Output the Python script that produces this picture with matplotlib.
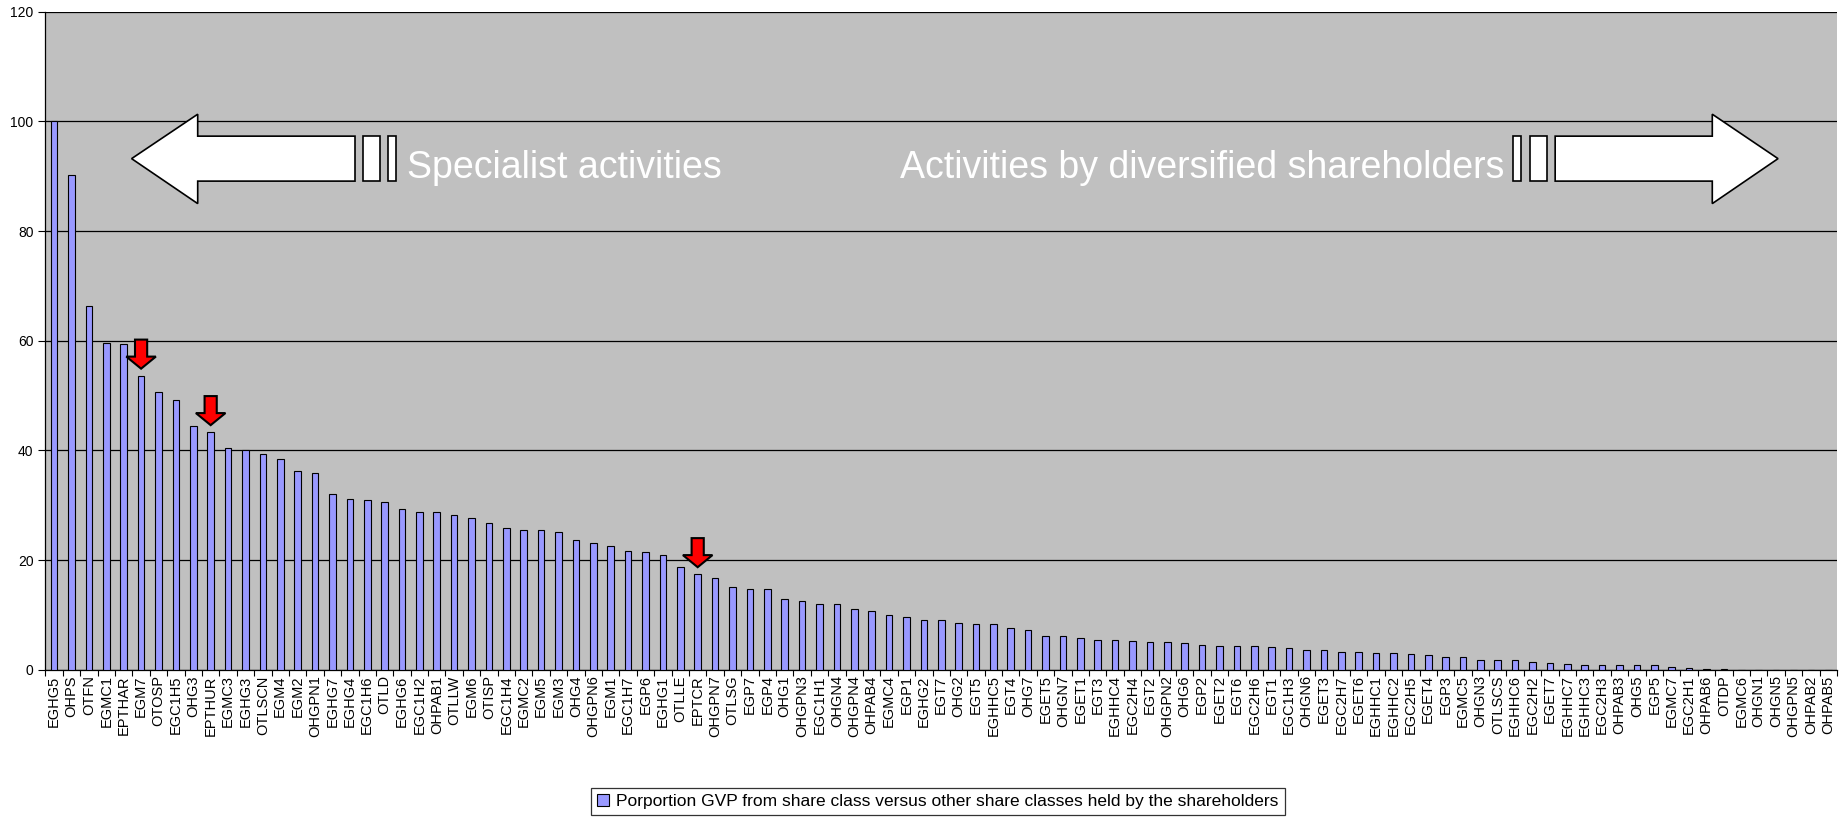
import matplotlib
matplotlib.use("Agg")
import matplotlib.pyplot as plt
from matplotlib.patches import Polygon, Rectangle
import numpy as np

plt.rcParams['font.family'] = ['Liberation Sans', 'DejaVu Sans']

# share classes, sorted by value
classes = ["EGHG5", "OHPS", "OTFN", "EGMC1", "EPTHAR", "EGM7", "OTOSP", "EGC1H5", "OHG3", "EPTHUR",
           "EGMC3", "EGHG3", "OTLSCN", "EGM4", "EGM2", "OHGPN1", "EGHG7", "EGHG4", "EGC1H6", "OTLD",
           "EGHG6", "EGC1H2", "OHPAB1", "OTLLW", "EGM6", "OTISP", "EGC1H4", "EGMC2", "EGM5", "EGM3",
           "OHG4", "OHGPN6", "EGM1", "EGC1H7", "EGP6", "EGHG1", "OTLLE", "EPTCR", "OHGPN7", "OTLSG",
           "EGP7", "EGP4", "OHG1", "OHGPN3", "EGC1H1", "OHGN4", "OHGPN4", "OHPAB4", "EGMC4", "EGP1",
           "EGHG2", "EGT7", "OHG2", "EGT5", "EGHHC5", "EGT4", "OHG7", "EGET5", "OHGN7", "EGET1",
           "EGT3", "EGHHC4", "EGC2H4", "EGT2", "OHGPN2", "OHG6", "EGP2", "EGET2", "EGT6", "EGC2H6",
           "EGT1", "EGC1H3", "OHGN6", "EGET3", "EGC2H7", "EGET6", "EGHHC1", "EGHHC2", "EGC2H5", "EGET4",
           "EGP3", "EGMC5", "OHGN3", "OTLSCS", "EGHHC6", "EGC2H2", "EGET7", "EGHHC7", "EGHHC3", "EGC2H3",
           "OHPAB3", "OHG5", "EGP5", "EGMC7", "EGC2H1", "OHPAB6", "OTDP", "EGMC6", "OHGN1", "OHGN5",
           "OHGPN5", "OHPAB2", "OHPAB5"]

values = [100.0, 90.2, 66.3, 59.6, 59.4, 53.6, 50.7, 49.2, 44.4, 43.3,
          40.4, 40.0, 39.3, 38.5, 36.3, 35.9, 32.1, 31.2, 31.0, 30.5,
          29.4, 28.8, 28.8, 28.2, 27.7, 26.7, 25.8, 25.4, 25.4, 25.2,
          23.7, 23.1, 22.6, 21.6, 21.4, 21.0, 18.7, 17.4, 16.7, 15.0,
          14.8, 14.8, 12.9, 12.5, 12.0, 12.0, 11.0, 10.8, 10.0, 9.6,
          9.1, 9.1, 8.5, 8.3, 8.3, 7.6, 7.2, 6.2, 6.2, 5.7,
          5.5, 5.5, 5.2, 5.1, 5.1, 4.9, 4.5, 4.3, 4.3, 4.3,
          4.1, 3.9, 3.6, 3.6, 3.2, 3.2, 3.0, 3.0, 2.8, 2.6,
          2.4, 2.4, 1.7, 1.7, 1.7, 1.5, 1.3, 1.1, 0.95, 0.95,
          0.95, 0.95, 0.8, 0.56, 0.4, 0.1, 0.1, 0.0, 0.0, 0.0,
          0.0, 0.0, 0.0]

marked = ["EGM7", "EPTHUR", "EPTCR"]
legend_label = "Porportion GVP from share class versus other share classes held by the shareholders"

fig = plt.figure(figsize=(18.39, 8.33), dpi=100)
ax = fig.add_axes([0.0247, 0.196, 0.9742, 0.790])
ax.set_facecolor('#C0C0C0')

x = np.arange(len(classes))
ax.bar(x, values, width=0.38, color='#9999FF', edgecolor='black', linewidth=0.8,
       label=legend_label, zorder=3)

ax.set_xlim(-0.5, len(classes) - 0.5)
ax.set_ylim(0, 120)
ax.set_yticks(range(0, 121, 20))
ax.yaxis.grid(True, color='black', linewidth=0.9, zorder=1)
ax.set_axisbelow(True)
ax.set_xticks(x)
ax.set_xticklabels(classes, rotation=90, fontsize=10.5)
ax.set_xticks(np.arange(-0.5, len(classes), 1), minor=True)
ax.tick_params(axis='x', which='major', length=0, pad=4)
ax.tick_params(axis='x', which='minor', length=4, width=0.8, direction='out')
ax.tick_params(axis='y', length=5, width=0.8, labelsize=10)
for s in ['top', 'right']:
    ax.spines[s].set_visible(False)
for s in ['left', 'bottom']:
    ax.spines[s].set_linewidth(0.9)

# red arrows above the marked share classes
for name in marked:
    i = classes.index(name)
    tip = values[i] + 1.3
    pts = [(i, tip), (i - 0.85, tip + 2.2), (i - 0.35, tip + 2.2), (i - 0.35, tip + 5.3),
           (i + 0.35, tip + 5.3), (i + 0.35, tip + 2.2), (i + 0.85, tip + 2.2)]
    ax.add_patch(Polygon(pts, closed=True, facecolor='red', edgecolor='black',
                         linewidth=1.5, zorder=5))

# big white arrows with labels
tr = ax.get_yaxis_transform()
left_arrow = [(0.0481, 93.2), (0.0850, 101.3), (0.0850, 97.3), (0.1728, 97.3),
              (0.1728, 89.1), (0.0850, 89.1), (0.0850, 85.0)]
ax.add_patch(Polygon(left_arrow, closed=True, transform=tr, facecolor='white',
                     edgecolor='black', linewidth=1.2, zorder=4))
for x0, x1 in [(0.1771, 0.1866), (0.1910, 0.1958)]:
    ax.add_patch(Rectangle((x0, 89.1), x1 - x0, 8.2, transform=tr, facecolor='white',
                           edgecolor='black', linewidth=1.2, zorder=4))
ax.text(0.2016, 89.7, "Specialist activities", transform=tr, color='white',
        fontsize=27, va='baseline', ha='left', zorder=6)

right_arrow = [(0.9671, 93.2), (0.9304, 101.3), (0.9304, 97.3), (0.8427, 97.3),
               (0.8427, 89.1), (0.9304, 89.1), (0.9304, 85.0)]
ax.add_patch(Polygon(right_arrow, closed=True, transform=tr, facecolor='white',
                     edgecolor='black', linewidth=1.2, zorder=4))
for x0, x1 in [(0.8191, 0.8237), (0.8289, 0.8381)]:
    ax.add_patch(Rectangle((x0, 89.1), x1 - x0, 8.2, transform=tr, facecolor='white',
                           edgecolor='black', linewidth=1.2, zorder=4))
ax.text(0.8145, 89.7, "Activities by diversified shareholders", transform=tr, color='white',
        fontsize=27, va='baseline', ha='right', zorder=6)

leg = fig.legend(loc='lower center', bbox_to_anchor=(0.51, 0.011), fontsize=12.5,
                 frameon=True, fancybox=False, edgecolor='black', handlelength=0.7,
                 handleheight=0.7, handletextpad=0.4, borderpad=0.35)
leg.get_frame().set_linewidth(0.9)

fig.savefig('out.png', dpi=100)
